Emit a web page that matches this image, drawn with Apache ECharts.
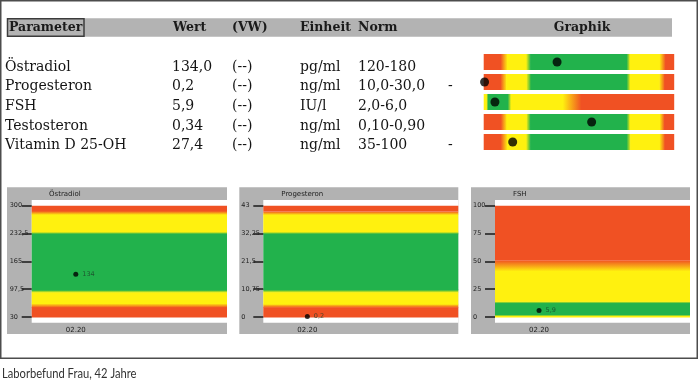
<!DOCTYPE html>
<html><head><meta charset="utf-8">
<script src="https://cdn.jsdelivr.net/npm/echarts@6/dist/echarts.min.js"></script>
<style>html,body{margin:0;padding:0;background:#fff}#c{width:700px;height:381px}</style>
</head><body><div id="c"></div>
<script>
// ---------- data ----------
const headers = ['Parameter', 'Wert', '(VW)', 'Einheit', 'Norm', 'Graphik'];
const parameters = ['Östradiol', 'Progesteron', 'FSH', 'Testosteron', 'Vitamin D 25-OH'];
const values = [134.0, 0.2, 5.9, 0.34, 27.4];
const valueTexts = ['134,0', '0,2', '5,9', '0,34', '27,4'];
const vwTexts = ['(--)', '(--)', '(--)', '(--)', '(--)'];
const units = ['pg/ml', 'ng/ml', 'IU/l', 'ng/ml', 'ng/ml'];
const norms = ['120-180', '10,0-30,0', '2,0-6,0', '0,10-0,90', '35-100'];
const flags = ['', '-', '', '', '-'];
const scaleMin = [30, 0, 0, 0, 0];
const scaleMax = [300, 43, 100, 0.6, 180];
// colour stops along each parameter's scale: [value, zone]
const bandStops = [
  [[30,'R'],[54,'R'],[63,'Y'],[90,'Y'],[96,'G'],[232.5,'G'],[237,'Y'],[279,'Y'],[287,'R'],[300,'R']],
  [[0,'R'],[3.8,'R'],[5.1,'Y'],[9.6,'Y'],[10.6,'G'],[32.25,'G'],[33,'Y'],[39.6,'Y'],[40.8,'R'],[43,'R']],
  [[0,'Y'],[1.4,'Y'],[2.2,'G'],[12.6,'G'],[14.2,'Y'],[41.5,'Y'],[51,'R'],[100,'R']],
  [[0,'R'],[0.054,'R'],[0.072,'Y'],[0.134,'Y'],[0.146,'G'],[0.45,'G'],[0.46,'Y'],[0.554,'Y'],[0.568,'R'],[0.6,'R']],
  [[0,'R'],[16,'R'],[22,'Y'],[40,'Y'],[44,'G'],[135,'G'],[138.5,'Y'],[166,'Y'],[171,'R'],[180,'R']]
];
const chartParams = [0, 1, 2];
const chartIntervals = [67.5, 10.75, 25];
const dateLabels = ['02.20'];
const dateDay = [7];          // position of the measurement on a 0..31 day axis
const dayAxisMax = 31;
const caption = 'Laborbefund Frau, 42 Jahre';

// ---------- styling ----------
const COL = {R: '#f05123', Y: '#fff10f', G: '#22b24c'};
const fmt = v => String(v).replace('.', ',');
function grad(horizontal, c1, c2) {
  return horizontal
    ? new echarts.graphic.LinearGradient(0, 0, 1, 0, [{offset: 0, color: c1}, {offset: 1, color: c2}])
    : new echarts.graphic.LinearGradient(0, 1, 0, 0, [{offset: 0, color: c1}, {offset: 1, color: c2}]);
}
function segments(stops) {
  const out = [];
  for (let i = 0; i < stops.length - 1; i++) out.push([stops[i][0], stops[i + 1][0], stops[i][1], stops[i + 1][1]]);
  return out;
}

const chart = echarts.init(document.getElementById('c'), null, {renderer: 'canvas'});
const grids = [], xAxes = [], yAxes = [], series = [], graphics = [];

// frame + header
graphics.push({type: 'rect', z: 0, shape: {x: 0.75, y: 0.75, width: 696.5, height: 357.5}, style: {fill: 'none', stroke: '#4d4d4d', lineWidth: 1.5}});
graphics.push({type: 'rect', z: 0, shape: {x: 7, y: 18.3, width: 665, height: 18.4}, style: {fill: '#b3b3b3'}});
graphics.push({type: 'rect', z: 0, shape: {x: 7.5, y: 18.8, width: 76.5, height: 17.4}, style: {fill: '#b3b3b3', stroke: '#3c3c3c', lineWidth: 1.5}});
const headX = [9, 173, 232, 300, 358, 582];
headers.forEach((h, i) => graphics.push({type: 'text', z: 5, x: headX[i], y: 28,
  style: {text: h, fontFamily: 'DejaVu Serif', fontWeight: 'bold', fontSize: 12.5, fill: '#1a1a1a',
    align: i === 5 ? 'center' : 'left', verticalAlign: 'middle'}}));

// table rows
const colX = [5, 172, 232, 300, 358, 448];
parameters.forEach((p, i) => {
  const y = 67 + 19.7 * i;
  [p, valueTexts[i], vwTexts[i], units[i], norms[i], flags[i]].forEach((t, j) => {
    if (!t) return;
    graphics.push({type: 'text', z: 5, x: colX[j], y: y,
      style: {text: t, fontFamily: 'DejaVu Serif', fontSize: 14, fill: '#141414', verticalAlign: 'middle'}});
  });
});

// graphic bars
parameters.forEach((p, i) => {
  grids.push({left: 483.7, width: 190.5, top: 54 + 20 * i, height: 16});
  xAxes.push({type: 'value', gridIndex: i, min: scaleMin[i], max: scaleMax[i], show: false});
  yAxes.push({type: 'value', gridIndex: i, min: 0, max: 1, show: false});
  const seg = segments(bandStops[i]);
  series.push({type: 'custom', xAxisIndex: i, yAxisIndex: i, silent: true, clip: false, z: 2,
    data: seg.map(s => [s[0], s[1]]), encode: {x: [0, 1]},
    renderItem: (params, api) => {
      const cs = params.coordSys;
      const a = api.coord([api.value(0), 0.5]), b = api.coord([api.value(1), 0.5]);
      const s = seg[params.dataIndex];
      const last = params.dataIndex === seg.length - 1;
      return {type: 'rect', shape: {x: a[0], y: cs.y, width: b[0] - a[0] + (last ? 0 : 0.6), height: cs.height},
        style: {fill: grad(true, COL[s[2]], COL[s[3]])}};
    }});
  series.push({type: 'scatter', xAxisIndex: i, yAxisIndex: i, silent: true, clip: false, z: 5,
    data: [[values[i], 0.5]], symbolSize: 9, itemStyle: {color: '#000'}});
});

// lower charts
const panelLeft = [7, 239.3, 471], panelRight = [227, 458.3, 690], plotLeft = [31.7, 263.3, 495];
chartParams.forEach((pi, k) => {
  const gi = 5 + k;
  graphics.push({type: 'rect', z: 0, shape: {x: panelLeft[k], y: 187.3, width: panelRight[k] - panelLeft[k], height: 146.7}, style: {fill: '#b2b2b2'}});
  graphics.push({type: 'rect', z: 0, shape: {x: plotLeft[k], y: 200, width: panelRight[k] - plotLeft[k], height: 122.7}, style: {fill: '#ffffff'}});
  graphics.push({type: 'text', z: 5, x: panelLeft[k] + 42, y: 194,
    style: {text: parameters[pi], fontFamily: 'DejaVu Sans', fontSize: 7, fill: '#222', verticalAlign: 'middle'}});
  grids.push({left: plotLeft[k], width: panelRight[k] - plotLeft[k], top: 205.7, height: 111.3});
  xAxes.push({type: 'value', gridIndex: gi, min: 0, max: dayAxisMax, interval: dateDay[0], z: 5,
    axisLine: {show: false}, axisTick: {show: false}, splitLine: {show: false},
    axisLabel: {show: true, margin: 10, fontFamily: 'DejaVu Sans', fontSize: 7, color: '#222', showMaxLabel: false,
      formatter: v => (v === dateDay[0] ? dateLabels[0] : '')}});
  yAxes.push({type: 'value', gridIndex: gi, min: scaleMin[pi], max: scaleMax[pi], interval: chartIntervals[k], z: 5,
    axisLine: {show: false}, splitLine: {show: false},
    axisTick: {show: true, length: 10, lineStyle: {color: '#1a1a1a', width: 1.5}},
    axisLabel: {show: true, align: 'left', margin: 22, fontFamily: 'DejaVu Sans', fontSize: 6.5, color: '#222', formatter: fmt}});
  const seg = segments(bandStops[pi]);
  series.push({type: 'custom', xAxisIndex: gi, yAxisIndex: gi, silent: true, clip: false, z: 2,
    data: seg.map(s => [0, s[0], s[1]]), encode: {x: 0, y: [1, 2]},
    renderItem: (params, api) => {
      const cs = params.coordSys;
      const a = api.coord([0, api.value(1)]), b = api.coord([0, api.value(2)]);
      const s = seg[params.dataIndex];
      const last = params.dataIndex === seg.length - 1;
      return {type: 'rect', shape: {x: cs.x, y: b[1], width: cs.width, height: a[1] - b[1] + (last ? 0 : 0.6)},
        style: {fill: grad(false, COL[s[2]], COL[s[3]])}};
    }});
  series.push({type: 'scatter', xAxisIndex: gi, yAxisIndex: gi, silent: true, clip: false, z: 5,
    data: [[dateDay[0], values[pi]]], symbolSize: 5, itemStyle: {color: '#000'},
    label: {show: true, position: 'right', distance: 4, fontFamily: 'DejaVu Sans', fontSize: 6.5, color: '#1d3d28',
      formatter: () => fmt(values[pi])}});
});

// caption
graphics.push({type: 'text', z: 5, x: 2, y: 374, scaleX: 0.86,
  style: {text: caption, fontFamily: 'Lato', fontSize: 13, fill: '#333', verticalAlign: 'middle'}});

chart.setOption({
  animation: false,
  backgroundColor: '#fff',
  grid: grids, xAxis: xAxes, yAxis: yAxes, series: series,
  graphic: {elements: graphics}
});
</script></body></html>
